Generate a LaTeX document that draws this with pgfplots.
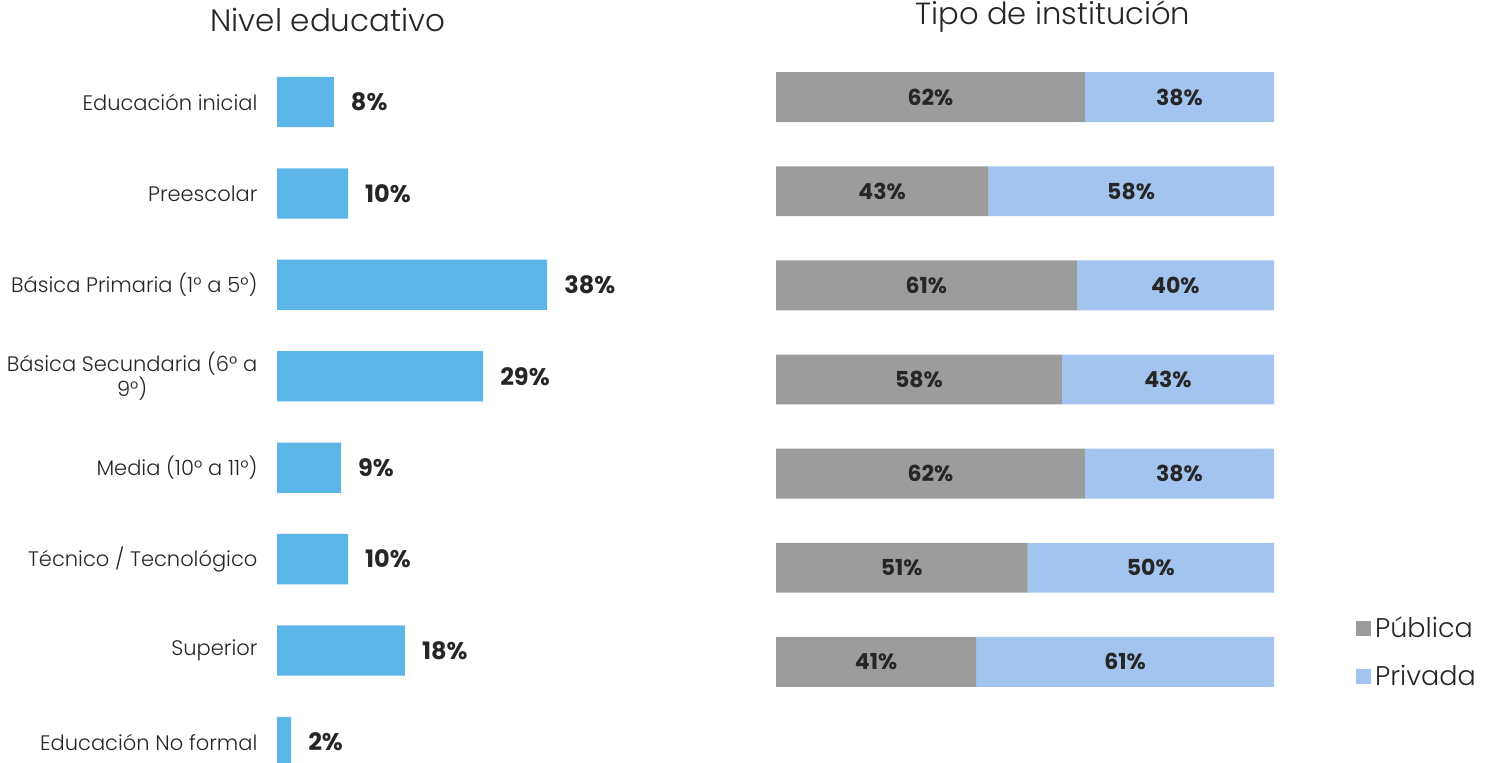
\documentclass[border=0pt]{standalone}
\usepackage{fontspec}
\setmainfont{Poppins}
\newfontfamily\lightfont{Poppins Light}
\usepackage{pgfplots}
\pgfplotsset{compat=1.18}
\usepackage{pgfplotstable}

\definecolor{barblue}{HTML}{5DB6E8}
\definecolor{pubgray}{HTML}{9C9C9C}
\definecolor{privblue}{HTML}{A2C4EE}
\definecolor{txt}{HTML}{262626}

% Nivel educativo (porcentaje)
\pgfplotstableread[col sep=comma]{
idx,pct,lab
0,8,8
1,10,10
2,38,38
3,29,29
4,9,9
5,10,10
6,18,18
7,2,2
}\nivel

% Tipo de institucion (participacion normalizada a 100)
\pgfplotstableread[col sep=comma]{
row,pub,priv,publab,privlab
0,62.0,38.0,62,38
1,42.6,57.4,43,58
2,60.4,39.6,61,40
3,57.4,42.6,58,43
4,62.0,38.0,62,38
5,50.5,49.5,51,50
6,40.2,59.8,41,61
}\tipo

\begin{document}
\begin{tikzpicture}
\useasboundingbox (0,0) rectangle (743.5pt,-381.5pt);

\node[font=\lightfont\fontsize{15.5}{17}\selectfont, color=txt] at (164pt,-10pt) {Nivel educativo};
\node[font=\lightfont\fontsize{15.3}{17}\selectfont, color=txt] at (526.5pt,-8.5pt) {Tipo de institución};

\begin{axis}[
  at={(138.5pt,-28.15pt)}, anchor=north west,
  scale only axis, width=160pt, height=353.35pt,
  xbar, bar width=0.55,
  xmin=0, xmax=45, ymin=-0.5, ymax=7.23,
  enlargelimits=false, y dir=reverse,
  axis line style={draw=none}, xtick=\empty,
  ytick={0,...,7}, ytick style={draw=none},
  yticklabels={Educación inicial, Preescolar, Básica Primaria (1° a 5°),
    {Básica Secundaria (6° a\\9°)}, Media (10° a 11°), Técnico / Tecnológico,
    Superior, Educación No formal},
  yticklabel style={font=\lightfont\fontsize{10.5}{12.5}\selectfont, color=txt, align=center, anchor=east, xshift=-2pt},
  point meta=explicit symbolic,
  nodes near coords={\pgfplotspointmeta\%},
  every node near coord/.append style={font=\bfseries\fontsize{12}{14}\selectfont, color=txt, anchor=west, xshift=5pt},
]
\addplot[fill=barblue, draw=none] table[x=pct, y=idx, meta=lab] {\nivel};
\end{axis}

\begin{axis}[
  at={(388pt,-25pt)}, anchor=north west,
  scale only axis, width=249pt, height=329.5pt,
  xbar stacked, bar width=0.53,
  xmin=0, xmax=100, ymin=-0.5, ymax=6.5,
  enlargelimits=false, y dir=reverse,
  axis line style={draw=none}, xtick=\empty, ytick=\empty,
  point meta=explicit symbolic,
  nodes near coords={\pgfplotspointmeta\%},
  every node near coord/.append style={font=\bfseries\fontsize{11}{13}\selectfont, color=txt},
  legend style={draw=none, at={(1.152,0.086)}, anchor=west,
    font=\lightfont\fontsize{13.5}{15}\selectfont, text=txt, row sep=8.5pt},
  legend cell align=left,
  legend image code/.code={\fill[#1] (0pt,-3.75pt) rectangle (7.5pt,3.75pt);},
]
\addplot[fill=pubgray, draw=none] table[x=pub, y=row, meta=publab] {\tipo};
\addplot[fill=privblue, draw=none] table[x=priv, y=row, meta=privlab] {\tipo};
\legend{Pública, Privada}
\end{axis}
\end{tikzpicture}
\end{document}
